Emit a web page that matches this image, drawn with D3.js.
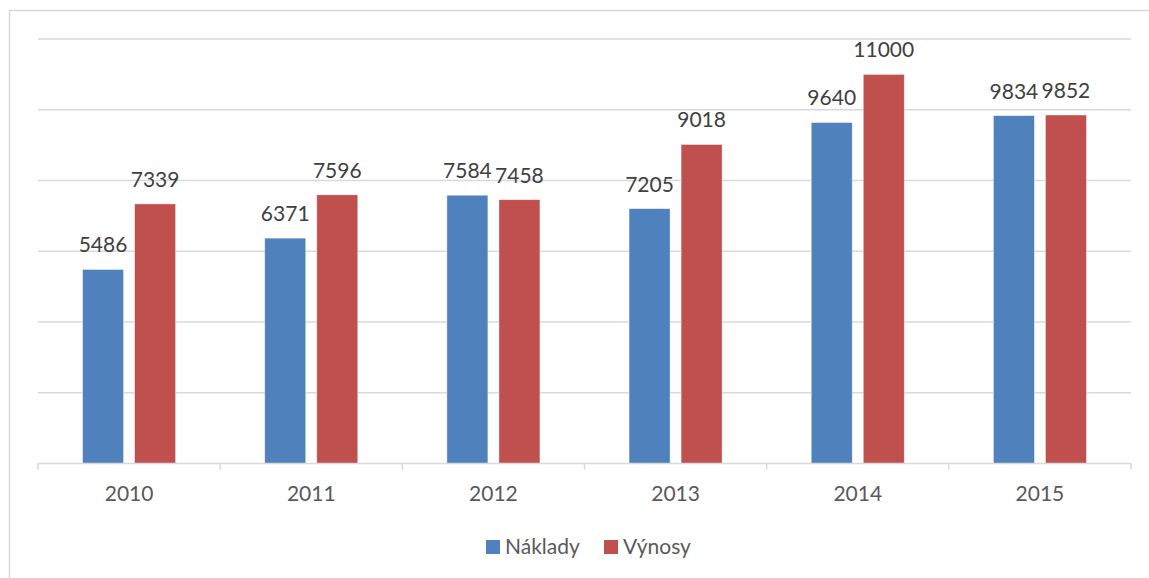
<!DOCTYPE html>
<html>
<head>
<meta charset="utf-8">
<script src="https://cdn.jsdelivr.net/npm/d3@7"></script>
<style>
  body { margin: 0; background: #fff; }
  svg { display: block; font-family: Lato, "Open Sans", sans-serif; }
</style>
</head>
<body>
<svg id="chart" width="1149" height="578"></svg>
<script>
// values
const years = ["2010", "2011", "2012", "2013", "2014", "2015"];
const naklady = [5486, 6371, 7584, 7205, 9640, 9834];
const vynosy = [7339, 7596, 7458, 9018, 11000, 9852];
const seriesNames = ["Náklady", "Výnosy"];
const seriesColors = ["#4F81BD", "#C0504D"];
const gridTicks = [0, 2000, 4000, 6000, 8000, 10000, 12000];

const svg = d3.select('#chart')
const plotLeft = 38, plotRight = 1131, plotTop = 39, plotBottom = 463.5

// outer frame (right/bottom edges fall outside the picture)
svg.append('rect')
  .attr('x', 9.5).attr('y', 10.5)
  .attr('width', 1160).attr('height', 600)
  .attr('fill', 'none')
  .attr('stroke', '#d9d9d9')
  .attr('stroke-width', 1.5)

const x = d3.scaleBand().domain(years).range([plotLeft, plotRight])
const xInner = d3.scaleBand().domain(seriesNames)
  .range([0, x.bandwidth()])
  .paddingInner(0.2115)
  .paddingOuter(0.856)
const y = d3.scaleLinear().domain([0, 12000]).range([plotBottom, plotTop])
const color = d3.scaleOrdinal().domain(seriesNames).range(seriesColors)

// horizontal gridlines
svg.append('g')
  .selectAll('line')
  .data(gridTicks.slice(1))
  .join('line')
  .attr('x1', plotLeft).attr('x2', plotRight)
  .attr('y1', d => y(d)).attr('y2', d => y(d))
  .attr('stroke', '#d9d9d9')
  .attr('stroke-width', 1.5)

const rows = years.map((yr, i) => ({
  year: yr,
  values: [
    { name: seriesNames[0], value: naklady[i] },
    { name: seriesNames[1], value: vynosy[i] }
  ]
}))

const groups = svg.append('g')
  .selectAll('g')
  .data(rows)
  .join('g')
  .attr('transform', d => `translate(${x(d.year)},0)`)

groups.selectAll('rect')
  .data(d => d.values)
  .join('rect')
  .attr('x', d => xInner(d.name))
  .attr('y', d => y(d.value))
  .attr('width', xInner.bandwidth())
  .attr('height', d => y(0) - y(d.value))
  .attr('fill', d => color(d.name))
  .attr('stroke', 'rgba(255,255,255,0.6)')
  .attr('stroke-width', 0.75)

groups.selectAll('text')
  .data(d => d.values)
  .join('text')
  .attr('x', d => xInner(d.name) + xInner.bandwidth() / 2)
  .attr('y', d => y(d.value) - 17)
  .attr('text-anchor', 'middle')
  .attr('font-size', 21)
  .attr('fill', '#404040')
  .text(d => d.value)

// x axis
const xAxis = svg.append('g')
  .attr('transform', `translate(0,${plotBottom})`)
  .call(d3.axisBottom(x).tickSize(0).tickPadding(0))
xAxis.select('.domain').remove()
xAxis.selectAll('text')
  .attr('y', 37)
  .attr('dy', 0)
  .attr('font-size', 21)
  .attr('font-family', 'Lato, sans-serif')
  .attr('fill', '#595959')

svg.append('line')
  .attr('x1', plotLeft).attr('x2', plotRight)
  .attr('y1', plotBottom).attr('y2', plotBottom)
  .attr('stroke', '#d9d9d9')
  .attr('stroke-width', 1.5)

// tick marks at category boundaries
svg.append('g')
  .selectAll('line')
  .data(years.map(d => x(d)).concat([plotRight]))
  .join('line')
  .attr('x1', d => d).attr('x2', d => d)
  .attr('y1', plotBottom).attr('y2', plotBottom + 6)
  .attr('stroke', '#d9d9d9')
  .attr('stroke-width', 1.5)

// legend
const legend = svg.append('g')
const legendX = [486, 604]
seriesNames.forEach((name, i) => {
  legend.append('rect')
    .attr('x', legendX[i]).attr('y', 540)
    .attr('width', 14).attr('height', 14)
    .attr('fill', seriesColors[i])
  legend.append('text')
    .attr('x', legendX[i] + 19).attr('y', 554)
    .attr('font-size', 21)
    .attr('fill', '#595959')
    .text(name)
})
</script>
</body>
</html>
